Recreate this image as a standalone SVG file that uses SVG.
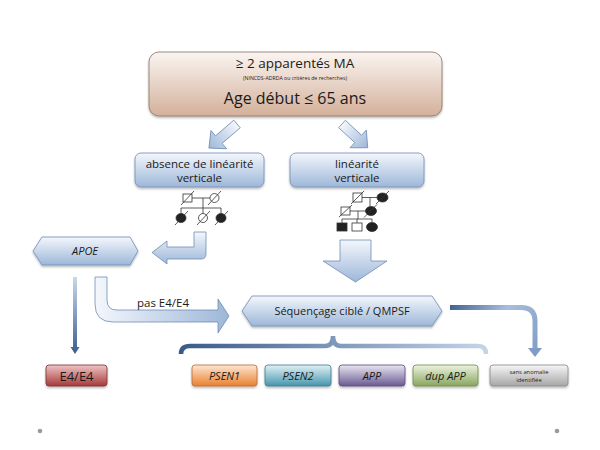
<svg xmlns="http://www.w3.org/2000/svg" width="600" height="450" viewBox="0 0 600 450">
<defs>
<linearGradient id="gTop" x1="0" y1="0" x2="0" y2="1"><stop offset="0" stop-color="#faf5f2"/><stop offset="1" stop-color="#d4b09a"/></linearGradient>
<linearGradient id="gBlue" x1="0" y1="0" x2="0" y2="1"><stop offset="0" stop-color="#f4f7fc"/><stop offset="1" stop-color="#9db7d9"/></linearGradient>
<linearGradient id="gBlueH" x1="0" y1="0" x2="1" y2="0"><stop offset="0" stop-color="#f4f7fc"/><stop offset="1" stop-color="#9db7d9"/></linearGradient>
<linearGradient id="gBlueHR" x1="1" y1="0" x2="0" y2="0"><stop offset="0" stop-color="#f4f7fc"/><stop offset="1" stop-color="#9db7d9"/></linearGradient>
<linearGradient id="gDown" x1="0" y1="0" x2="0" y2="1"><stop offset="0" stop-color="#c9d8ec"/><stop offset="1" stop-color="#3b5d8e"/></linearGradient>
<linearGradient id="gBracket" x1="181" y1="0" x2="486" y2="0" gradientUnits="userSpaceOnUse"><stop offset="0" stop-color="#3a5a8a"/><stop offset="1" stop-color="#c4d4e9"/></linearGradient>
<linearGradient id="gRight" x1="450" y1="300" x2="540" y2="355" gradientUnits="userSpaceOnUse"><stop offset="0" stop-color="#3b5d8e"/><stop offset="0.5" stop-color="#a8bedc"/><stop offset="1" stop-color="#7e9cc6"/></linearGradient>
<linearGradient id="gRed" x1="0" y1="0" x2="0" y2="1"><stop offset="0" stop-color="#efc4c4"/><stop offset="1" stop-color="#a63a3a"/></linearGradient>
<linearGradient id="gOrange" x1="0" y1="0" x2="0" y2="1"><stop offset="0" stop-color="#fde6d2"/><stop offset="1" stop-color="#e9802f"/></linearGradient>
<linearGradient id="gTeal" x1="0" y1="0" x2="0" y2="1"><stop offset="0" stop-color="#e0f1f5"/><stop offset="1" stop-color="#4596ad"/></linearGradient>
<linearGradient id="gPurple" x1="0" y1="0" x2="0" y2="1"><stop offset="0" stop-color="#e8e5f1"/><stop offset="1" stop-color="#6a5a92"/></linearGradient>
<linearGradient id="gGreen" x1="0" y1="0" x2="0" y2="1"><stop offset="0" stop-color="#edf3e0"/><stop offset="1" stop-color="#88a65c"/></linearGradient>
<linearGradient id="gGray" x1="0" y1="0" x2="0" y2="1"><stop offset="0" stop-color="#f6f6f6"/><stop offset="1" stop-color="#a6a6a6"/></linearGradient>
<filter id="sh" x="-10%" y="-10%" width="120%" height="140%"><feDropShadow dx="0" dy="1.5" stdDeviation="1.2" flood-color="#000" flood-opacity="0.3"/></filter>
<style>
text{font-family:"Open Sans","Liberation Sans",sans-serif;fill:#1a1a1a;text-anchor:middle}
.it{font-style:italic}
.blk{stroke:#6f8db5;stroke-width:0.8}
.ped{stroke:#333;stroke-width:0.8;fill:none}
.pf{fill:#222;stroke:#333;stroke-width:0.8}
.pe{fill:#fff;stroke:#333;stroke-width:0.8}
.sl{stroke:#333;stroke-width:0.8}
.res{stroke-width:0.8;filter:url(#sh)}
</style>
</defs>
<rect width="600" height="450" fill="#fff"/>

<g id="connectors">
  <!-- diagonal arrows from top box -->
  <path class="blk" fill="url(#gBlueH)" transform="translate(237,124) rotate(139.4)" d="M0,-5 H24 V-12 L37,0 L24,12 V5 H0 Z"/>
  <path class="blk" fill="url(#gBlueH)" transform="translate(342,124) rotate(42.7)" d="M0,-5 H22 V-12 L35,0 L22,12 V5 H0 Z"/>
  <!-- L arrow to APOE -->
  <path class="blk" fill="url(#gBlue)" d="M194,232 H206 V254 Q206,259 201,259 H167 V264 L152,252.5 L167,241 V247 H194 Z"/>
  <!-- big down arrow to sequencing -->
  <path class="blk" fill="url(#gBlue)" d="M340,240 H371 V261 H387 L355.5,282 L323,261 H340 Z"/>
  <!-- APOE to E4/E4 -->
  <path fill="url(#gDown)" d="M73,277 H77 V347 H79.5 L75,354 L70.5,347 H73 Z"/>
  <!-- pas E4/E4 arrow -->
  <path class="blk" fill="url(#gBlueH)" d="M95,277 H107 V300 Q107,310 117,310 H218 V299 L229,316 L218,333 V322 H113 Q95,322 95,304 Z"/>
  <text x="163" y="307" font-size="11.5">pas E4/E4</text>
  <!-- sequencing to no anomaly -->
  <path d="M450,307.5 H521 Q535,307.5 535,321 V349" fill="none" stroke="url(#gRight)" stroke-width="5"/>
  <path d="M528,348 H542 L535,357 Z" fill="#7e9cc6"/>
  <!-- bracket -->
  <path d="M181,354 Q181,346 190,346 H325 Q333,346 333,336 Q333,346 341,346 H478 Q486,346 486,354" fill="none" stroke="url(#gBracket)" stroke-width="4.5"/>
</g>

<g id="top">
  <rect x="149" y="52" width="293" height="64" rx="10" fill="url(#gTop)" stroke="#8c7464" stroke-width="0.8" filter="url(#sh)"/>
  <text x="295" y="68" font-size="13.5">≥ 2 apparentés MA</text>
  <text x="295" y="79.5" font-size="5.2">(NINCDS-ADRDA ou critères de recherches)</text>
  <text x="295" y="104" font-size="16">Age début ≤ 65 ans</text>
</g>

<g id="absence">
  <rect x="135" y="153" width="129" height="34" rx="6" fill="url(#gBlue)" stroke="#6f8db5" stroke-width="0.8" filter="url(#sh)"/>
  <text x="199.5" y="168" font-size="11.5">absence de linéarité</text>
  <text x="199.5" y="181.5" font-size="11.5">verticale</text>
</g>

<g id="linearite">
  <rect x="290" y="153" width="134" height="34" rx="6" fill="url(#gBlue)" stroke="#6f8db5" stroke-width="0.8" filter="url(#sh)"/>
  <text x="357" y="168" font-size="11.5">linéarité</text>
  <text x="357" y="181.5" font-size="11.5">verticale</text>
</g>

<g id="pedigree-left">
  <path class="ped" d="M192,198 H210 M203,198 V208 M181,208 H221 M181,208 V213.5 M203,208 V213.5 M221,208 V213.5"/>
  <rect class="pe" x="183" y="194" width="9" height="8"/>
  <circle class="pe" cx="214.5" cy="198" r="4.5"/>
  <ellipse class="pf" cx="181" cy="218" rx="5" ry="4.5"/>
  <circle class="pe" cx="203" cy="218" r="4.5"/>
  <ellipse class="pf" cx="221" cy="218" rx="5" ry="4.5"/>
  <path class="sl" d="M181,205 L194,191 M208,205 L221,191 M175,225 L188,211 M197,225 L210,211 M215,225 L228,211"/>
</g>

<g id="pedigree-right">
  <path class="ped" d="M362,197.5 H377 M370,197.5 V206.5 M350,211 H366 M358,211 V219 M342,219 H372 M342,219 V223 M357,219 V223 M372,219 V222.5"/>
  <rect class="pe" x="353" y="193" width="9" height="9"/>
  <ellipse class="pf" cx="382.5" cy="197.5" rx="5.5" ry="4.5"/>
  <rect class="pe" x="341" y="207" width="9" height="8"/>
  <ellipse class="pf" cx="371" cy="211" rx="5.5" ry="4.5"/>
  <rect class="pf" x="337" y="223" width="10" height="8"/>
  <rect class="pe" x="352" y="223" width="10" height="8"/>
  <ellipse class="pf" cx="372" cy="227" rx="5.5" ry="4.5"/>
  <path class="sl" d="M351,204 L364,191 M376,204 L389,191 M339,217 L352,205 M364,217.5 L377,204.5"/>
</g>

<g id="apoe">
  <path d="M42,237 H130 L138,251 L130,265 H42 L33,251 Z" fill="url(#gBlue)" stroke="#6f8db5" stroke-width="0.8" filter="url(#sh)"/>
  <text class="it" x="85" y="255" font-size="11">APOE</text>
</g>

<g id="sequencage">
  <path d="M252,296 H432 L442,311 L432,326 H252 L242,311 Z" fill="url(#gBlue)" stroke="#6f8db5" stroke-width="0.8" filter="url(#sh)"/>
  <text x="342" y="315" font-size="11">Séquençage ciblé / QMPSF</text>
</g>

<g id="e4e4">
  <rect class="res" x="46" y="365" width="61" height="21" rx="3" fill="url(#gRed)" stroke="#7a3030"/>
  <text x="76.5" y="380.5" font-size="13">E4/E4</text>
</g>
<g id="psen1">
  <rect class="res" x="192" y="365" width="65" height="21" rx="3" fill="url(#gOrange)" stroke="#b86a30"/>
  <text class="it" x="224.5" y="379.5" font-size="11">PSEN1</text>
</g>
<g id="psen2">
  <rect class="res" x="265" y="365" width="66" height="21" rx="3" fill="url(#gTeal)" stroke="#3e7c8e"/>
  <text class="it" x="298" y="379.5" font-size="11">PSEN2</text>
</g>
<g id="app">
  <rect class="res" x="339" y="365" width="66" height="21" rx="3" fill="url(#gPurple)" stroke="#5a4c7c"/>
  <text class="it" x="372" y="379.5" font-size="11">APP</text>
</g>
<g id="dupapp">
  <rect class="res" x="413" y="365" width="65" height="21" rx="3" fill="url(#gGreen)" stroke="#6e8a48"/>
  <text class="it" x="445.5" y="379.5" font-size="11">dup APP</text>
</g>
<g id="sans-anomalie">
  <rect class="res" x="490" y="365" width="78" height="21" rx="3" fill="url(#gGray)" stroke="#888"/>
  <text x="529" y="374" font-size="5.8">sans anomalie</text>
  <text x="529" y="382" font-size="5.8">identifiée</text>
</g>

<circle cx="40" cy="431" r="2.3" fill="#9a9a9a"/>
<circle cx="557" cy="431" r="2.3" fill="#9a9a9a"/>
</svg>
